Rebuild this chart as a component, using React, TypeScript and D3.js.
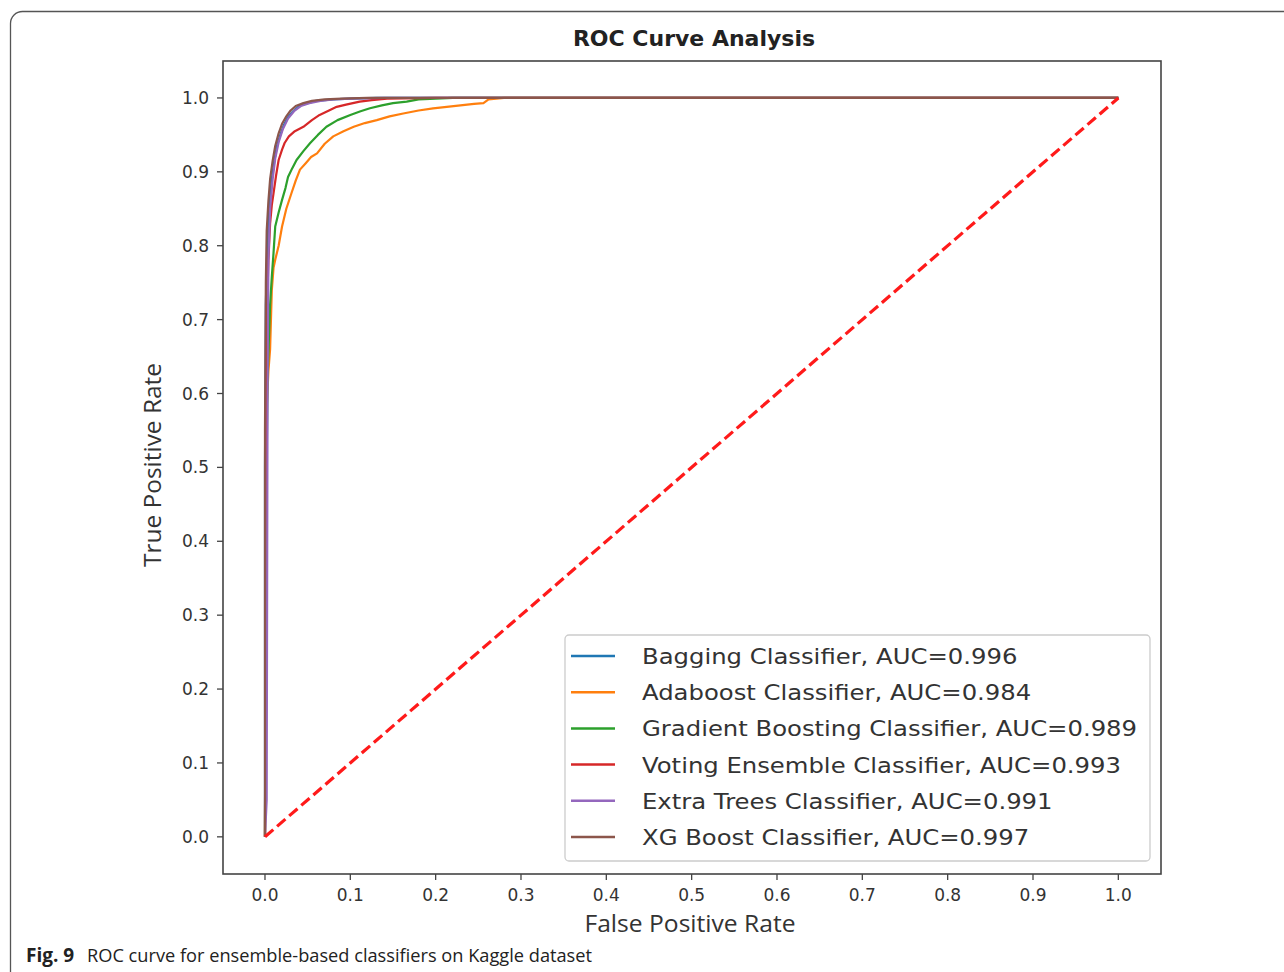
import React from "react";
import * as d3 from "d3";

const seriesNames = [
  "Bagging Classifier, AUC=0.996",
  "Adaboost Classifier, AUC=0.984",
  "Gradient Boosting Classifier, AUC=0.989",
  "Voting Ensemble Classifier, AUC=0.993",
  "Extra Trees Classifier, AUC=0.991",
  "XG Boost Classifier, AUC=0.997",
];
const seriesColors = ["#1f77b4", "#ff7f0e", "#2ca02c", "#d62728", "#9467bd", "#8c564b"];

const baggingFpr = [0, 0, 0.001, 0.003, 0.005, 0.008, 0.011, 0.014, 0.018, 0.022, 0.027, 0.033, 0.04, 0.05, 0.06, 0.08, 0.1, 0.13, 1.0];
const baggingTpr = [0, 0.5, 0.72, 0.81, 0.855, 0.89, 0.915, 0.935, 0.95, 0.963, 0.974, 0.982, 0.989, 0.993, 0.996, 0.998, 0.999, 1.0, 1.0];

const adaFpr = [0, 0.001, 0.002, 0.004, 0.006, 0.008, 0.01, 0.012, 0.016, 0.02, 0.025, 0.031, 0.036, 0.041, 0.048, 0.054, 0.061, 0.07, 0.08, 0.092, 0.104, 0.117, 0.131, 0.146, 0.162, 0.18, 0.197, 0.213, 0.229, 0.245, 0.256, 0.262, 0.28, 1.0];
const adaTpr = [0, 0.35, 0.58, 0.63, 0.66, 0.74, 0.77, 0.781, 0.8, 0.826, 0.85, 0.871, 0.888, 0.903, 0.912, 0.92, 0.925, 0.938, 0.948, 0.955, 0.961, 0.966, 0.97, 0.975, 0.979, 0.983, 0.986, 0.988, 0.99, 0.992, 0.993, 0.998, 1.0, 1.0];

const gbFpr = [0, 0.001, 0.003, 0.006, 0.008, 0.01, 0.012, 0.016, 0.02, 0.024, 0.027, 0.032, 0.037, 0.045, 0.053, 0.062, 0.072, 0.085, 0.1, 0.112, 0.123, 0.137, 0.15, 0.166, 0.18, 0.22, 1.0];
const gbTpr = [0, 0.4, 0.62, 0.72, 0.758, 0.79, 0.826, 0.845, 0.862, 0.878, 0.893, 0.905, 0.916, 0.928, 0.939, 0.95, 0.961, 0.97, 0.977, 0.982, 0.986, 0.99, 0.993, 0.995, 0.998, 1.0, 1.0];

const votingFpr = [0, 0.001, 0.002, 0.004, 0.006, 0.008, 0.01, 0.013, 0.016, 0.02, 0.023, 0.028, 0.035, 0.045, 0.055, 0.064, 0.075, 0.084, 0.095, 0.111, 0.125, 0.143, 0.2, 1.0];
const votingTpr = [0, 0.45, 0.7, 0.78, 0.83, 0.855, 0.871, 0.895, 0.916, 0.93, 0.939, 0.948, 0.955, 0.961, 0.97, 0.977, 0.983, 0.988, 0.991, 0.995, 0.997, 0.999, 1.0, 1.0];

const extraFpr = [0, 0.002, 0.003, 0.004, 0.006, 0.009, 0.012, 0.016, 0.021, 0.027, 0.034, 0.042, 0.052, 0.065, 0.08, 0.1, 0.14, 1.0];
const extraTpr = [0, 0.05, 0.6, 0.78, 0.85, 0.89, 0.918, 0.94, 0.958, 0.972, 0.982, 0.989, 0.993, 0.996, 0.998, 0.999, 1.0, 1.0];

const xgFpr = [0, 0, 0.001, 0.002, 0.004, 0.006, 0.009, 0.012, 0.016, 0.02, 0.025, 0.03, 0.036, 0.045, 0.055, 0.07, 0.09, 0.12, 1.0];
const xgTpr = [0, 0.55, 0.75, 0.82, 0.86, 0.89, 0.915, 0.935, 0.952, 0.965, 0.975, 0.983, 0.989, 0.993, 0.996, 0.998, 0.999, 1.0, 1.0];

const diagX = [0, 1];
const diagY = [0, 1];

const xTicks = [0, 0.1, 0.2, 0.3, 0.4, 0.5, 0.6, 0.7, 0.8, 0.9, 1.0];
const yTicks = [0, 0.1, 0.2, 0.3, 0.4, 0.5, 0.6, 0.7, 0.8, 0.9, 1.0];

const allFpr = [baggingFpr, adaFpr, gbFpr, votingFpr, extraFpr, xgFpr];
const allTpr = [baggingTpr, adaTpr, gbTpr, votingTpr, extraTpr, xgTpr];

export default function App() {
  const W = 1284, H = 972;
  const left = 223, right = 1161, top = 61, bottom = 874;
  const x = d3.scaleLinear().domain([-0.0492, 1.05]).range([left, right]);
  const y = d3.scaleLinear().domain([-0.0503, 1.05]).range([bottom, top]);
  const line = d3.line<[number, number]>().x((d) => x(d[0])).y((d) => y(d[1]));
  const font = "'DejaVu Sans', sans-serif";
  const legX = 565, legY = 635, legW = 585, legH = 226;
  const rowY = (i: number) => 656 + i * 36.2;

  return (
    <svg width={W} height={H} style={{ position: "absolute", left: 0, top: 0, background: "#fff" }}>
      <rect x={10.5} y={11.5} width={1320} height={1020} rx={12} fill="#fff" stroke="#555" strokeWidth={1.3} />
      <text x={694} y={46} textAnchor="middle" fontFamily={font} fontWeight="bold" fontSize={22} fill="#222">
        ROC Curve Analysis
      </text>
      <rect x={left} y={top} width={right - left} height={bottom - top} fill="#fff" />
      <defs>
        <clipPath id="clip">
          <rect x={left} y={top} width={right - left} height={bottom - top} />
        </clipPath>
      </defs>
      <g clipPath="url(#clip)">
        {allFpr.map((f, i) => (
          <path
            key={i}
            d={line(f.map((v, j) => [v, allTpr[i][j]] as [number, number])) || ""}
            fill="none"
            stroke={seriesColors[i]}
            strokeWidth={2.2}
            strokeLinejoin="round"
          />
        ))}
        <path
          d={line(diagX.map((v, j) => [v, diagY[j]] as [number, number])) || ""}
          fill="none"
          stroke="#ff1a1a"
          strokeWidth={3.2}
          strokeDasharray="11,5"
        />
      </g>
      <rect x={left} y={top} width={right - left} height={bottom - top} fill="none" stroke="#444" strokeWidth={1.6} />
      {xTicks.map((t) => (
        <g key={"x" + t}>
          <line x1={x(t)} x2={x(t)} y1={bottom} y2={bottom + 6} stroke="#444" strokeWidth={1.3} />
          <text x={x(t)} y={901} textAnchor="middle" fontFamily={font} fontSize={17} fill="#333">
            {t.toFixed(1)}
          </text>
        </g>
      ))}
      {yTicks.map((t) => (
        <g key={"y" + t}>
          <line x1={left - 6} x2={left} y1={y(t)} y2={y(t)} stroke="#444" strokeWidth={1.3} />
          <text x={209} y={y(t) + 6} textAnchor="end" fontFamily={font} fontSize={17} fill="#333">
            {t.toFixed(1)}
          </text>
        </g>
      ))}
      <text x={690} y={932} textAnchor="middle" fontFamily="'Open Sans', sans-serif" fontSize={23} fill="#333" textLength={211} lengthAdjust="spacingAndGlyphs">
        False Positive Rate
      </text>
      <text
        transform="translate(161,465) rotate(-90)"
        textAnchor="middle"
        fontFamily="'Open Sans', sans-serif"
        fontSize={23}
        fill="#333"
        textLength={204}
        lengthAdjust="spacingAndGlyphs"
      >
        True Positive Rate
      </text>
      <rect x={legX} y={legY} width={legW} height={legH} rx={4} fill="#fff" fillOpacity={0.85} stroke="#ccc" strokeWidth={1.3} />
      {seriesNames.map((n, i) => (
        <g key={n}>
          <line x1={571} x2={615} y1={rowY(i)} y2={rowY(i)} stroke={seriesColors[i]} strokeWidth={2.5} />
          <text
            x={0}
            y={0}
            transform={`translate(642,${rowY(i) + 8}) scale(1.105,1)`}
            fontFamily={font}
            fontSize={22}
            fill="#333"
          >
            {n}
          </text>
        </g>
      ))}
      <text x={26} y={962} fontFamily="'Open Sans', sans-serif" fontSize={19} fill="#222">
        <tspan fontWeight="bold">Fig. 9</tspan>
      </text>
      <text x={87} y={962} fontFamily="'Open Sans', sans-serif" fontSize={19} fill="#222" textLength={505} lengthAdjust="spacingAndGlyphs">
        ROC curve for ensemble-based classifiers on Kaggle dataset
      </text>
    </svg>
  );
}
